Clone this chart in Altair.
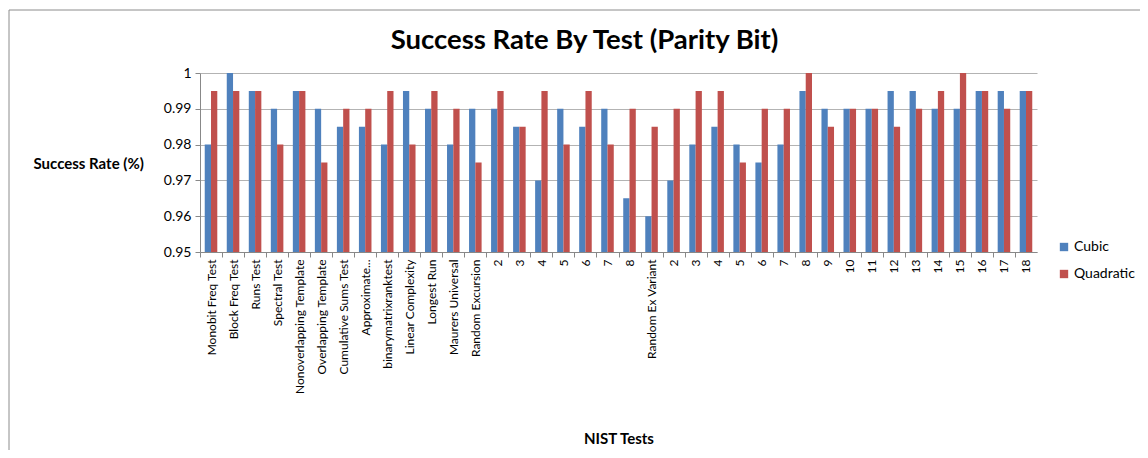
import altair as alt
import pandas as pd

labels = ["Monobit Freq Test", "Block Freq Test", "Runs Test", "Spectral Test",
          "Nonoverlapping Template", "Overlapping Template", "Cumulative Sums Test",
          "Approximate...", "binarymatrixranktest", "Linear Complexity", "Longest Run",
          "Maurers Universal", "Random Excursion", "2", "3", "4", "5", "6", "7", "8",
          "Random Ex Variant", "2", "3", "4", "5", "6", "7", "8", "9", "10", "11",
          "12", "13", "14", "15", "16", "17", "18"]
cubic = [0.98, 1.0, 0.995, 0.99, 0.995, 0.99, 0.985, 0.985, 0.98, 0.995, 0.99,
         0.98, 0.99, 0.99, 0.985, 0.97, 0.99, 0.985, 0.99, 0.965,
         0.96, 0.97, 0.98, 0.985, 0.98, 0.975, 0.98, 0.995, 0.99, 0.99, 0.99,
         0.995, 0.995, 0.99, 0.99, 0.995, 0.995, 0.995]
quadratic = [0.995, 0.995, 0.995, 0.98, 0.995, 0.975, 0.99, 0.99, 0.995, 0.98, 0.995,
             0.99, 0.975, 0.995, 0.985, 0.995, 0.98, 0.995, 0.98, 0.99,
             0.985, 0.99, 0.995, 0.995, 0.975, 0.99, 0.99, 1.0, 0.985, 0.99, 0.99,
             0.985, 0.99, 0.995, 1.0, 0.995, 0.99, 0.995]
series = ["Cubic", "Quadratic"]
colors = ["#4F81BD", "#C0504D"]

rows = []
for i, lab in enumerate(labels):
    key = f"{i:02d}"
    rows.append({"key": key, "series": "Cubic", "value": cubic[i]})
    rows.append({"key": key, "series": "Quadratic", "value": quadratic[i]})
df = pd.DataFrame(rows)

label_arr = "[" + ",".join("'" + l.replace("'", "\\'") + "'" for l in labels) + "]"

FONT = "Lato"
W, H = 837, 179
step = W / len(labels)

bars = alt.Chart(df).mark_bar(clip=True).encode(
    x=alt.X("key:N", sort=None,
            scale=alt.Scale(paddingInner=0.43, paddingOuter=0.215),
            axis=alt.Axis(
                title="NIST Tests", labelAngle=-90,
                labelExpr=f"{label_arr}[toNumber(datum.value)]",
                labelFont=FONT, labelFontSize=12, labelColor="#000000",
                labelPadding=2, tickSize=5, tickColor="#888888",
                domainColor="#888888", tickOffset=-step / 2, labelOffset=step / 2,
                titleFont=FONT, titleFontSize=15, titleFontWeight="bold",
                titleColor="#000000", titleY=186, titleBaseline="middle",
                labelOverlap=False, labelLimit=200)),
    xOffset=alt.XOffset("series:N", scale=alt.Scale(paddingInner=0, paddingOuter=0)),
    y=alt.Y("value:Q",
            scale=alt.Scale(domain=[0.95, 1.0], nice=False, zero=False),
            axis=alt.Axis(
                title="Success Rate (%)", values=[0.95, 0.96, 0.97, 0.98, 0.99, 1.0],
                format="~g", labelFont=FONT, labelFontSize=14,
                labelColor="#000000", tickSize=5, tickColor="#888888",
                labelPadding=4, domainColor="#888888", gridColor="#b3b3b3",
                titleAngle=0, titleAlign="left", titleBaseline="middle",
                titleX=-167, titleY=90, titleFont=FONT, titleFontSize=15,
                titleFontWeight="bold", titleColor="#000000")),
    color=alt.Color("series:N",
                    scale=alt.Scale(domain=series, range=colors),
                    legend=alt.Legend(title=None, orient="none", legendX=857, legendY=167,
                                      symbolType="square", symbolSize=70,
                                      symbolStrokeWidth=0,
                                      labelFont=FONT, labelFontSize=14,
                                      labelColor="#000000", rowPadding=13,
                                      labelOffset=3)),
)

frame = pd.DataFrame({"k": [0]})
top_line = alt.Chart(frame).mark_rule(color="#8c8c8c", strokeWidth=1).encode(
    x=alt.value(-191), x2=alt.value(960), y=alt.value(-63))
left_line = alt.Chart(frame).mark_rule(color="#8c8c8c", strokeWidth=1).encode(
    x=alt.value(-191), y=alt.value(-63), y2=alt.value(400))

chart = alt.layer(bars, top_line, left_line).properties(
    width=W, height=H,
    title=alt.TitleParams("Success Rate By Test (Parity Bit)", font=FONT,
                          fontSize=27.5, fontWeight="bold", color="#000000",
                          anchor="middle", offset=14, dy=59, dx=-34),
    autosize=alt.AutoSizeParams(type="none"),
    padding={"left": 192, "top": 65, "right": 103, "bottom": 198},
).configure_view(stroke=None)

chart.save("out.html", embed_options={"renderer": "svg", "actions": False})
